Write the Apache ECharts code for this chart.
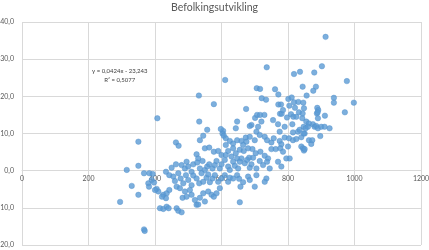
<!DOCTYPE html>
<html><head><meta charset="utf-8">
<script src="https://cdn.jsdelivr.net/npm/echarts@6/dist/echarts.min.js"></script>
<style>html,body{margin:0;padding:0;background:#fff}#c{width:429px;height:250px}</style>
</head><body><div id="c"></div>
<script>
const chartTitle = "Befolkingsutvikling";
const trendLabel = ["y = 0,0424x - 23,243", "R\u00b2 = 0,5077"];
const xTickValues = [0, 200, 400, 600, 800, 1000, 1200];
const yTickValues = [-20, -10, 0, 10, 20, 30, 40];

const leftPoints = [
 [295,-8.4],[315,0.2],[330,-4.1],[350,7.8],[350,1.3],[350,-6.5],[367,-0.7],[367,-15.8],[369,-16.2],
 [380,-3.4],[382,-4.3],[383,-0.7],[390,-2.5],[397,-3.2],[393,-0.9]
];
const corePoints = [
 [557,11.0],[605,10.7],[643,11.4],[705,10.5],[690,12.3],[790,11.8],[815,10.3],[830,10.5],
 [685,12.0],[775,10.5],[603,10.0],[710,11.8],[598,11.2],
 [535,8.2],[545,9.4],[607,9.4],[613,8.7],[625,8.0],[635,7.3],[647,8.2],[660,8.0],[673,8.9],[685,9.1],
 [700,8.2],[715,9.6],[730,9.1],[737,8.2],[750,7.6],[757,8.7],[775,8.0],[780,7.1],[790,8.9],[803,8.7],
 [815,8.2],[825,8.5],[675,7.8],[665,6.9],[463,7.6],[471,6.7],[525,4.4],[530,3.3],[550,6.0],[563,6.2],
 [577,5.1],[590,5.3],[600,4.2],[613,4.2],[620,5.3],[630,3.8],[643,4.7],[655,5.6],[667,5.3],[680,6.0],
 [693,5.8],[703,4.7],[717,5.1],[730,4.0],[740,3.3],[750,5.8],[763,5.8],[777,6.0],[785,5.1],[800,6.5],
 [805,3.3],[613,6.9],[635,6.0],[647,3.3],[660,3.3],[683,3.5],[695,3.5],
 [450,0.8],[463,1.7],[480,1.5],[490,0.6],[495,2.4],[500,1.1],[510,-0.3],[515,1.7],[527,2.2],[535,0.6],
 [543,2.6],[550,0.2],[557,1.1],[563,1.7],[573,0.6],[580,1.5],[585,2.6],[595,0.6],[600,1.7],[610,2.9],
 [620,1.1],[625,0.2],[635,2.4],[640,1.3],[650,0.6],[655,2.4],[670,2.0],[677,2.9],[685,0.8],[690,1.7],
 [705,0.6],[715,2.6],[725,1.5],[737,2.4],[745,0.6],[770,2.4],[780,1.1],[795,3.3],
 [433,-0.3],[443,-1.2],[455,-1.6],[460,-2.8],[470,-0.7],[477,-2.1],[485,-3.4],[493,-1.2],[500,-2.5],
 [510,-3.9],[515,-1.3],[525,-2.1],[533,-3.4],[540,-0.7],[545,-3.0],[555,-1.9],[560,-1.0],[565,-3.1],
 [573,-2.1],[580,-1.2],[590,-3.0],[600,-2.1],[610,-1.2],[620,-3.0],[625,-1.9],[635,-2.1],[647,-1.2],
 [653,-2.2],[657,-4.3],[665,-3.1],[680,-1.6],[685,-2.5],[700,-4.3],[705,-1.2],[735,-2.1],[730,-3.0],
 [405,-4.9],[410,-5.6],[425,-6.5],[435,-6.1],[433,-7.4],[443,-5.2],[465,-4.3],[475,-4.7],[483,-7.3],
 [490,-5.6],[495,-7.0],[505,-5.2],[510,-6.5],[520,-7.9],[525,-9.2],[535,-7.3],[545,-6.1],[550,-8.3],
 [560,-5.6],[570,-6.5],[577,-7.0],[585,-6.1],[595,-4.7],[655,-8.5],[415,-10.1],[425,-10.3],[435,-9.7],
 [441,-10.1],[465,-10.1],[470,-10.8],[480,-11.2],[530,-9.1],[400,-5.2],[421,-7.0]
];
const upperPoints = [
 [407,14.1],[532,20.2],[533,13.2],[577,17.9],[611,24.4],[647,13.2],[674,16.6],[706,22.2],[716,22.0],
 [701,14.2],[707,15.0],[716,15.0],[721,19.5],[720,13.2],[729,15.0],[734,19.1],[736,27.8],[755,13.6],
 [761,21.9],[771,20.5],[771,17.8],[779,17.8],[776,15.3],[781,15.3],[770,12.5],[785,16.3],[797,14.3],
 [801,19.3],[811,19.7],[804,17.5],[809,15.2],[816,14.5],[813,12.5],[818,26.0],[818,18.4],[821,16.9],
 [825,14.5],[831,18.5],[833,15.7],[836,26.6],[843,14.1],[844,22.6],[844,15.4],[846,18.3],[848,16.8],
 [855,13.2],[856,20.2],[876,21.5],[879,26.4],[884,22.6],[875,12.5],[887,15.4],[888,16.9],[891,16.3],
 [889,15.7],[890,14.1],[902,28.1],[911,14.8],[913,36.0],[938,19.6],[938,18.3],[971,15.7],[977,24.1],
 [998,18.3],[863,12.7]
];
const rightPoints = [
 [835,11.0],[840,6.5],[845,6.0],[848,5.4],[850,5.8],[847,11.8],[850,10.0],[860,11.8],[863,8.2],
 [870,7.2],[873,8.2],[880,11.8],[885,12.0],[890,11.4],[897,9.3],[900,11.8],[910,11.8],[925,11.4],
 [840,9.0],[847,10.0],[853,11.4]
];

const allPoints = leftPoints.concat(corePoints, upperPoints, rightPoints);
const FONT = 'Lato, "Liberation Sans", sans-serif';
const GRID_TOP = 22, GRID_BOTTOM = 5, H = 250;
const yMin = yTickValues[0], yMax = yTickValues[yTickValues.length - 1];
const plotH = H - GRID_TOP - GRID_BOTTOM;
const zeroOffset = -plotH * (0 - yMin) / (yMax - yMin);

const chart = echarts.init(document.getElementById('c'), null, {renderer: 'canvas'});
chart.setOption({
  animation: false,
  backgroundColor: '#ffffff',
  title: {
    text: chartTitle, left: 'center', top: -3,
    textStyle: {fontSize: 10.5, fontWeight: 'normal', color: '#595959', fontFamily: FONT}
  },
  grid: {left: 22, right: 8, top: GRID_TOP, bottom: GRID_BOTTOM, containLabel: false, outerBoundsMode: 'none'},
  xAxis: {
    type: 'value', min: xTickValues[0], max: xTickValues[xTickValues.length - 1], interval: 200,
    position: 'bottom', offset: zeroOffset,
    axisLine: {show: true, onZero: false, lineStyle: {color: '#d9d9d9', width: 1}},
    axisTick: {show: false},
    axisLabel: {fontSize: 7, color: '#595959', fontFamily: FONT, margin: 5,
      showMinLabel: true, showMaxLabel: true, formatter: v => String(v)},
    splitLine: {show: true, lineStyle: {color: '#d9d9d9', width: 1}}
  },
  yAxis: {
    type: 'value', min: yMin, max: yMax, interval: 10,
    axisLine: {show: false, onZero: false},
    axisTick: {show: false},
    axisLabel: {fontSize: 7, color: '#595959', fontFamily: FONT, margin: 8,
      formatter: v => v.toFixed(1).replace('.', ',')},
    splitLine: {show: true, lineStyle: {color: '#d9d9d9', width: 1}}
  },
  graphic: [{
    type: 'text', left: 92, top: 67, z: 10,
    style: {text: trendLabel.join('\n'), fontSize: 6, lineHeight: 9, fontFamily: FONT,
      fill: '#404040', align: 'center', textAlign: 'center'}
  }],
  series: [{
    type: 'scatter', data: allPoints, symbol: 'circle', symbolSize: 5.5,
    itemStyle: {color: '#5b9bd5', borderColor: '#4f8fca', borderWidth: 0.5}
  }]
});
</script></body></html>
